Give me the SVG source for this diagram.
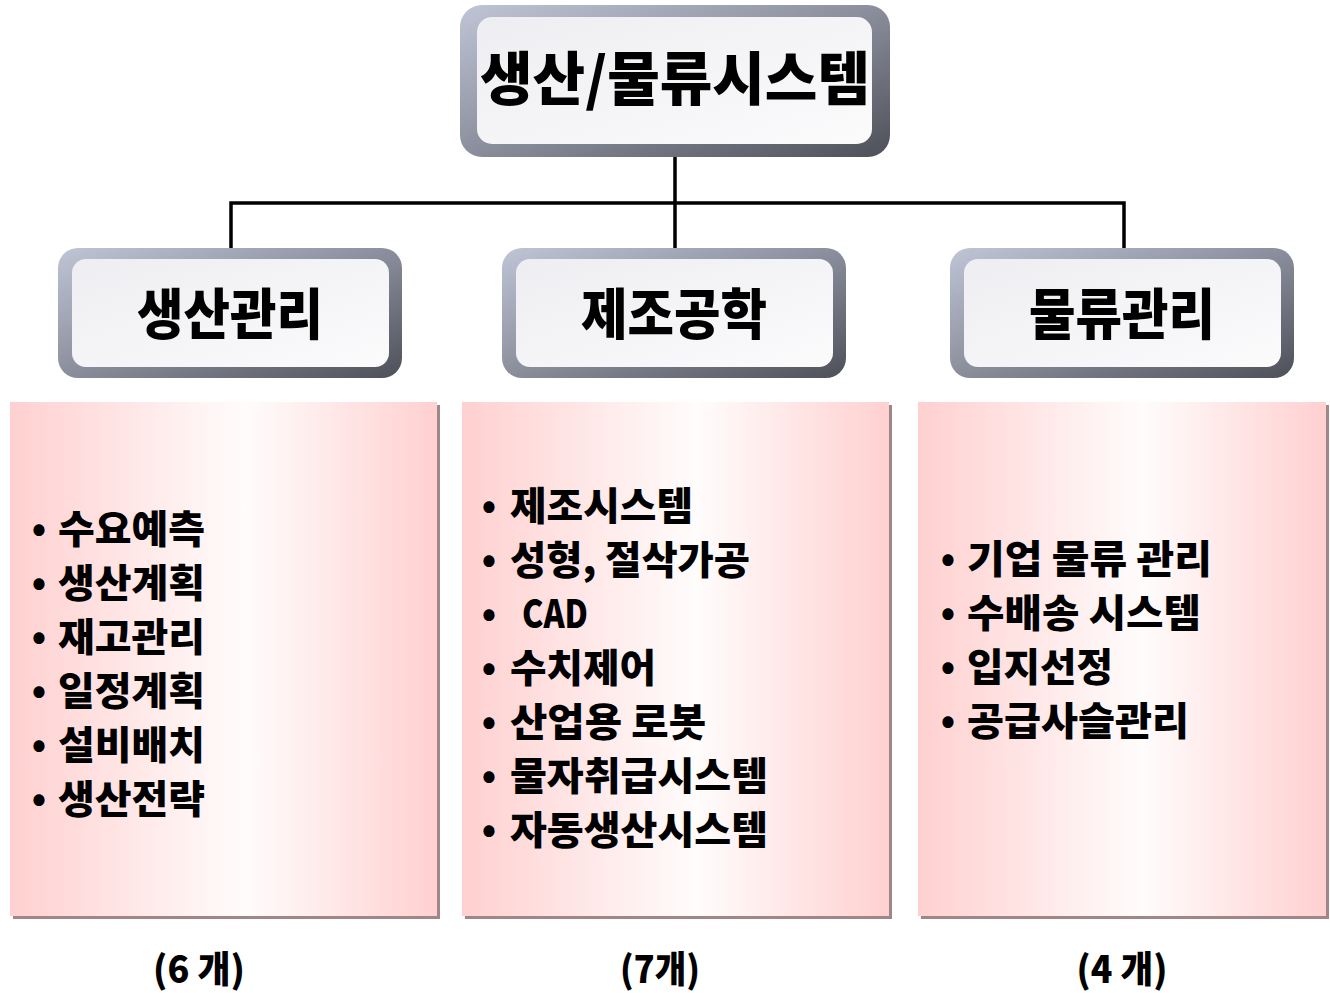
<svg xmlns="http://www.w3.org/2000/svg" width="1330" height="993" viewBox="0 0 1330 993">
<defs>
<linearGradient id="border" x1="0" y1="0" x2="1" y2="1">
<stop offset="0" stop-color="#c0c5d6"/>
<stop offset="0.5" stop-color="#8a8e9c"/>
<stop offset="1" stop-color="#4e5058"/>
</linearGradient>
<linearGradient id="inner" x1="0" y1="0" x2="1" y2="1">
<stop offset="0" stop-color="#eeeef2"/>
<stop offset="1" stop-color="#fbfbfc"/>
</linearGradient>
<linearGradient id="pink" x1="0" y1="0" x2="1" y2="0">
<stop offset="0" stop-color="#ffd0d0"/>
<stop offset="0.55" stop-color="#fffcfc"/>
<stop offset="1" stop-color="#ffd0d0"/>
</linearGradient>
<style>
.outer{fill:url(#border)}
.in{fill:url(#inner)}
.panel{fill:url(#pink)}
.shadow{fill:#a08686}
.t{font-family:"Noto Sans CJK KR","Liberation Sans",sans-serif;font-weight:900;fill:#000}
.h1{font-size:58px}
.h2{font-size:55px}
.it{font-size:39px}
.bl{font-size:36px}
.cnt{font-size:37px}
.wire{stroke:#000;stroke-width:3.5;fill:none}
</style>
</defs>
<g id="connectors">
<path class="wire" d="M675,155 V248 M231,248 V203 H1124 V248"/>
</g>
<g id="root">
<rect class="outer" x="460" y="5" width="430" height="152" rx="22"/>
<rect class="in" x="477" y="17" width="395" height="127" rx="15"/>
<text class="t h1" x="675" y="100" text-anchor="middle" textLength="390" lengthAdjust="spacingAndGlyphs">생산/물류시스템</text>
</g>
<g id="n-production">
<rect class="outer" x="58" y="248" width="344" height="130" rx="20"/>
<rect class="in" x="72" y="259" width="317" height="108" rx="14"/>
<text class="t h2" x="230" y="334" text-anchor="middle" textLength="186" lengthAdjust="spacingAndGlyphs">생산관리</text>
</g>
<g id="n-manufacturing">
<rect class="outer" x="502" y="248" width="344" height="130" rx="20"/>
<rect class="in" x="516" y="259" width="317" height="108" rx="14"/>
<text class="t h2" x="674" y="334" text-anchor="middle" textLength="186" lengthAdjust="spacingAndGlyphs">제조공학</text>
</g>
<g id="n-logistics">
<rect class="outer" x="950" y="248" width="344" height="130" rx="20"/>
<rect class="in" x="964" y="259" width="317" height="108" rx="14"/>
<text class="t h2" x="1122" y="334" text-anchor="middle" textLength="186" lengthAdjust="spacingAndGlyphs">물류관리</text>
</g>
<g id="list-production">
<rect class="shadow" x="13" y="405" width="427" height="514"/>
<rect class="panel" x="10" y="402" width="427" height="514"/>
<g class="t bl" text-anchor="middle">
<text x="39" y="541">•</text><text x="39" y="595">•</text><text x="39" y="649">•</text>
<text x="39" y="703">•</text><text x="39" y="757">•</text><text x="39" y="811">•</text>
</g>
<g class="t it">
<text x="58" y="543" textLength="147" lengthAdjust="spacingAndGlyphs">수요예측</text>
<text x="58" y="597" textLength="147" lengthAdjust="spacingAndGlyphs">생산계획</text>
<text x="58" y="651" textLength="147" lengthAdjust="spacingAndGlyphs">재고관리</text>
<text x="58" y="705" textLength="147" lengthAdjust="spacingAndGlyphs">일정계획</text>
<text x="58" y="759" textLength="147" lengthAdjust="spacingAndGlyphs">설비배치</text>
<text x="58" y="813" textLength="147" lengthAdjust="spacingAndGlyphs">생산전략</text>
</g>
<text class="t cnt" x="199" y="983" text-anchor="middle" textLength="92" lengthAdjust="spacingAndGlyphs">(6 개)</text>
</g>
<g id="list-manufacturing">
<rect class="shadow" x="465" y="405" width="427" height="514"/>
<rect class="panel" x="462" y="402" width="427" height="514"/>
<g class="t bl" text-anchor="middle">
<text x="489" y="518">•</text><text x="489" y="572">•</text><text x="489" y="626">•</text>
<text x="489" y="680">•</text><text x="489" y="734">•</text><text x="489" y="788">•</text><text x="489" y="842">•</text>
</g>
<g class="t it">
<text x="510" y="520" textLength="183" lengthAdjust="spacingAndGlyphs">제조시스템</text>
<text x="510" y="574" textLength="240" lengthAdjust="spacingAndGlyphs">성형, 절삭가공</text>
<text x="522" y="628" textLength="66" lengthAdjust="spacingAndGlyphs">CAD</text>
<text x="510" y="682" textLength="146" lengthAdjust="spacingAndGlyphs">수치제어</text>
<text x="510" y="736" textLength="196" lengthAdjust="spacingAndGlyphs">산업용 로봇</text>
<text x="510" y="790" textLength="258" lengthAdjust="spacingAndGlyphs">물자취급시스템</text>
<text x="510" y="844" textLength="258" lengthAdjust="spacingAndGlyphs">자동생산시스템</text>
</g>
<text class="t cnt" x="660" y="983" text-anchor="middle" textLength="80" lengthAdjust="spacingAndGlyphs">(7개)</text>
</g>
<g id="list-logistics">
<rect class="shadow" x="921" y="405" width="408" height="514"/>
<rect class="panel" x="918" y="402" width="408" height="514"/>
<g class="t bl" text-anchor="middle">
<text x="948" y="571">•</text><text x="948" y="625">•</text><text x="948" y="679">•</text><text x="948" y="733">•</text>
</g>
<g class="t it">
<text x="967" y="573" textLength="245" lengthAdjust="spacingAndGlyphs">기업 물류 관리</text>
<text x="967" y="627" textLength="234" lengthAdjust="spacingAndGlyphs">수배송 시스템</text>
<text x="967" y="681" textLength="146" lengthAdjust="spacingAndGlyphs">입지선정</text>
<text x="967" y="735" textLength="222" lengthAdjust="spacingAndGlyphs">공급사슬관리</text>
</g>
<text class="t cnt" x="1122" y="983" text-anchor="middle" textLength="91" lengthAdjust="spacingAndGlyphs">(4 개)</text>
</g>
</svg>
